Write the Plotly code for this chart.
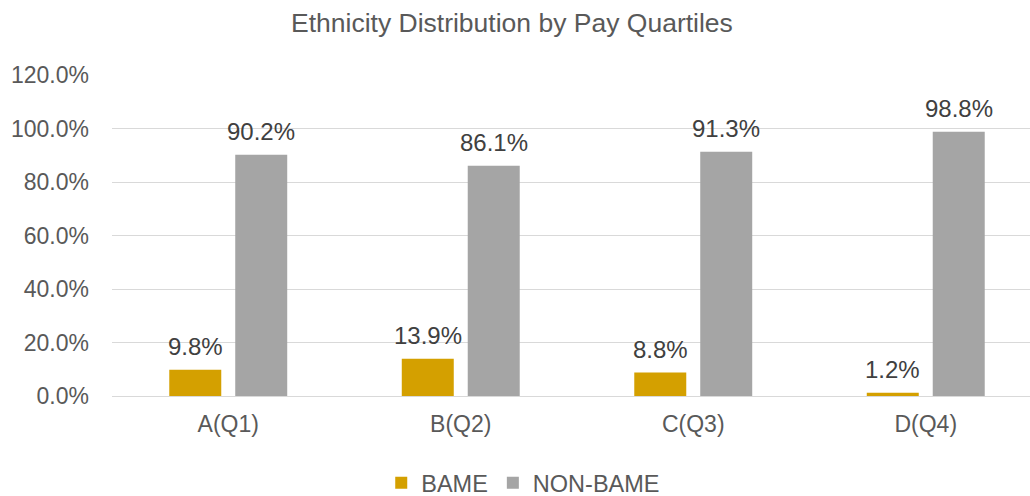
import plotly.graph_objects as go

categories = ["A(Q1)", "B(Q2)", "C(Q3)", "D(Q4)"]
bame = [9.8, 13.9, 8.8, 1.2]
non_bame = [90.2, 86.1, 91.3, 98.8]
series_names = ["BAME", "NON-BAME"]
colors = ["#D4A000", "#A5A5A5"]
y_ticks = [0, 20, 40, 60, 80, 100, 120]

FONT = "Liberation Sans, Arial, sans-serif"
TXT = "#595959"

fig = go.Figure()
for name, vals, col in zip(series_names, [bame, non_bame], colors):
    fig.add_trace(go.Bar(x=categories, y=vals, name=name, marker_color=col,
                         marker_line_width=0, hoverinfo="x+y"))

# data labels as annotations above the bars
cat_px = 232.5
slot = 66  # px per bar slot in a group
for i, vals in enumerate([bame, non_bame]):
    xs = (-0.5 + i) * slot
    for c, v in zip(categories, vals):
        fig.add_annotation(x=c, y=v, text=f"{v:.1f}%", showarrow=False,
                           xshift=xs, yshift=23, yanchor="middle",
                           font=dict(family=FONT, size=24, color="#404040"))

fig.update_layout(
    width=1030, height=496,
    margin=dict(l=112, r=0, t=75, b=100),
    paper_bgcolor="white", plot_bgcolor="white",
    barmode="group", bargap=0.4325, bargroupgap=0.212,
    title=dict(text="Ethnicity Distribution by Pay Quartiles",
               x=0.497, xanchor="center", y=1 - 23 / 496, yanchor="middle",
               font=dict(family=FONT, size=26.5, color=TXT)),
    font=dict(family=FONT, color=TXT),
    legend=dict(orientation="h", xref="container", yref="container",
                x=0.508, xanchor="center", y=13 / 496, yanchor="middle",
                font=dict(family=FONT, size=23.5, color=TXT),
                itemwidth=30, traceorder="normal"),
    showlegend=True,
)
fig.update_xaxes(range=[-0.5, 3.5 - 12 / cat_px], showgrid=False, showline=False,
                 ticks="", tickfont=dict(family=FONT, size=23, color=TXT),
                 ticklabelstandoff=12)
fig.update_yaxes(range=[0, 120], tickvals=y_ticks,
                 ticktext=[f"{t:.1f}%" for t in y_ticks],
                 showgrid=True, gridcolor="#D9D9D9", gridwidth=1,
                 zeroline=True, zerolinecolor="#D9D9D9", zerolinewidth=1,
                 showline=False, ticks="", ticklabelstandoff=22,
                 tickfont=dict(family=FONT, size=23, color=TXT))

fig.write_html("out.html")
